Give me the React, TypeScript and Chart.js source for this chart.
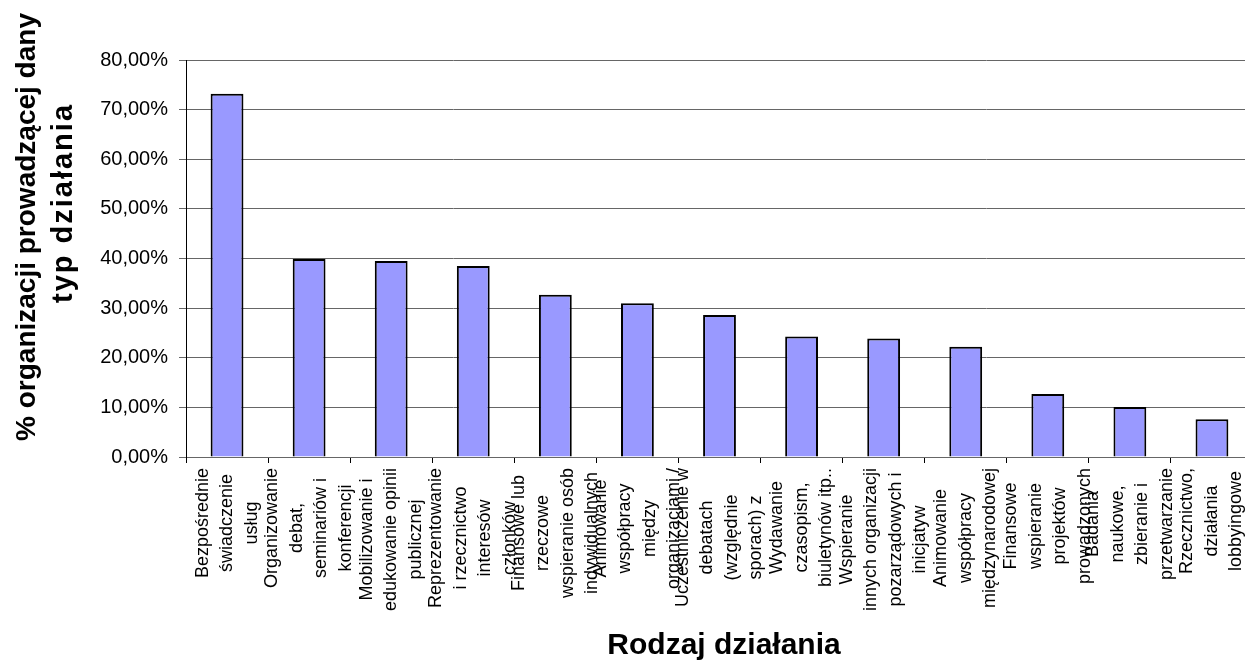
import React, { useEffect, useRef } from "react";
import { Chart, registerables } from "chart.js";

Chart.register(...registerables);

// ---- data ----
const categories: string[][] = [
  ["Bezpośrednie", "świadczenie", "usług"],
  ["Organizowanie", "debat,", "seminariów i", "konferencji"],
  ["Mobilizowanie i", "edukowanie opinii", "publicznej"],
  ["Reprezentowanie", "i rzecznictwo", "interesów", "członków"],
  ["Finansowe lub", "rzeczowe", "wspieranie osób", "indywidualnych"],
  ["Animowanie", "współpracy", "między", "organizacjami /"],
  ["Uczestniczenie w", "debatach", "(względnie", "sporach) z"],
  ["Wydawanie", "czasopism,", "biuletynów itp.."],
  ["Wspieranie", "innych organizacji", "pozarządowych i", "inicjatyw"],
  ["Animowanie", "współpracy", "międzynarodowej"],
  ["Finansowe", "wspieranie", "projektów", "prowadzonych"],
  ["Badania", "naukowe,", "zbieranie i", "przetwarzanie"],
  ["Rzecznictwo,", "działania", "lobbyingowe"],
];

const shares: number[] = [73.2, 39.9, 39.5, 38.5, 32.7, 31.0, 28.6, 24.3, 23.9, 22.2, 12.7, 10.1, 7.6];

const yMin = 0;
const yMax = 80;
const yStep = 10;

const xTitle = "Rodzaj działania";
const yTitle: string[] = ["% organizacji prowadzącej dany", "typ działania"];

const FONT = "'Liberation Sans', Arial, Helvetica, sans-serif";

const textPlugin = {
  id: "wrappedText",
  afterDraw(chart: any) {
    const ctx: any = chart.ctx;
    const xs = chart.scales.x;
    const area = chart.chartArea;
    ctx.save();
    ctx.fillStyle = "#000";
    ctx.textAlign = "center";
    ctx.textBaseline = "middle";

    // category labels, rotated, lines centred in their block
    ctx.font = `18px ${FONT}`;
    const lineGap = 24.5;
    const top = area.bottom + 11;
    categories.forEach((lines, i) => {
      const cx = xs.getPixelForValue(i);
      const maxW = Math.max(...lines.map((l) => ctx.measureText(l).width));
      const cy = top + maxW / 2;
      lines.forEach((line, j) => {
        const lx = cx + (j - (lines.length - 1) / 2) * lineGap;
        ctx.save();
        ctx.translate(lx, cy);
        ctx.rotate(-Math.PI / 2);
        ctx.fillText(line, 0, 0);
        ctx.restore();
      });
    });

    // x axis title
    ctx.font = `bold 30px ${FONT}`;
    ctx.fillText(xTitle, 724, 646);

    // y axis title
    const pos = [
      { x: 27, y: 227, size: 28, spacing: "0px" },
      { x: 64, y: 203, size: 29, spacing: "2px" },
    ];
    yTitle.forEach((line, j) => {
      ctx.save();
      ctx.font = `bold ${pos[j].size}px ${FONT}`;
      ctx.letterSpacing = pos[j].spacing;
      ctx.translate(pos[j].x, pos[j].y);
      ctx.rotate(-Math.PI / 2);
      ctx.fillText(line, 0, 0);
      ctx.restore();
    });
    ctx.restore();
  },
};

export default function App() {
  const canvasRef = useRef<HTMLCanvasElement | null>(null);

  useEffect(() => {
    document.body.style.margin = "0";
    const canvas = canvasRef.current;
    if (!canvas) return;
    const chart = new Chart(canvas, {
      type: "bar",
      data: {
        labels: categories.map((c) => c.join(" ")),
        datasets: [
          {
            data: shares,
            backgroundColor: "#9999FF",
            borderColor: "#000000",
            borderWidth: 2,
            barPercentage: 0.4,
            categoryPercentage: 1,
          },
        ],
      },
      options: {
        responsive: false,
        animation: false,
        devicePixelRatio: 1,
        layout: { padding: { top: 60, right: 0, left: 0, bottom: 0 } },
        plugins: {
          legend: { display: false },
          tooltip: { enabled: false },
          title: { display: false },
        },
        scales: {
          x: {
            type: "category",
            offset: true,
            grid: {
              offset: true,
              drawOnChartArea: false,
              drawTicks: true,
              tickLength: 6,
              color: "#000000",
            },
            border: { display: true, color: "#666666", width: 1 },
            ticks: { display: false },
            afterFit: (scale: any) => {
              scale.height = 205;
            },
          },
          y: {
            min: yMin,
            max: yMax,
            ticks: {
              stepSize: yStep,
              color: "#000",
              padding: 11,
              font: { family: FONT, size: 20 },
              callback: (v: any) => Number(v).toFixed(2).replace(".", ",") + "%",
            },
            grid: {
              color: "#666666",
              lineWidth: 1,
              tickLength: 7,
              drawTicks: true,
            },
            border: { display: true, color: "#000000", width: 1 },
            afterFit: (scale: any) => {
              scale.width = 186;
            },
          },
        },
      },
      plugins: [textPlugin],
    });
    return () => chart.destroy();
  }, []);

  return (
    <div style={{ width: 1245, height: 662, background: "#fff", overflow: "hidden" }}>
      <canvas ref={canvasRef} width={1253} height={662} style={{ display: "block" }} />
    </div>
  );
}
